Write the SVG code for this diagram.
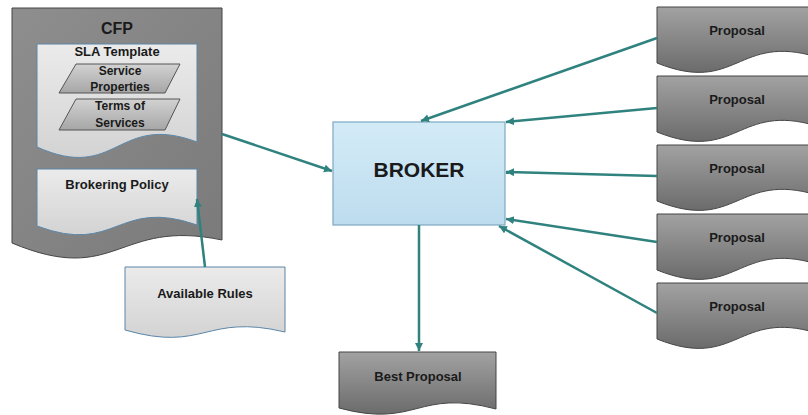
<svg xmlns="http://www.w3.org/2000/svg" width="808" height="415" viewBox="0 0 808 415">
  <defs>
    <linearGradient id="darkFill" x1="0" y1="0" x2="0" y2="1">
      <stop offset="0" stop-color="#a2a2a2"/>
      <stop offset="1" stop-color="#6b6b6b"/>
    </linearGradient>
    <linearGradient id="cfpFill" x1="0" y1="0" x2="1" y2="1">
      <stop offset="0" stop-color="#8e8e8e"/>
      <stop offset="1" stop-color="#7a7a7a"/>
    </linearGradient>
    <linearGradient id="lightFill" x1="0" y1="0" x2="0" y2="1">
      <stop offset="0" stop-color="#ebebeb"/>
      <stop offset="1" stop-color="#d3d3d3"/>
    </linearGradient>
    <linearGradient id="paraFill" x1="0" y1="0" x2="0" y2="1">
      <stop offset="0" stop-color="#d2d2d2"/>
      <stop offset="1" stop-color="#a6a6a6"/>
    </linearGradient>
    <linearGradient id="brokerFill" x1="0" y1="0" x2="0" y2="1">
      <stop offset="0" stop-color="#d3ebf7"/>
      <stop offset="1" stop-color="#bddcee"/>
    </linearGradient>
    <marker id="arrow" markerUnits="userSpaceOnUse" markerWidth="10" markerHeight="10" refX="8" refY="4" orient="auto">
      <path d="M0,0 L8,4 L0,8 Z" fill="#2f827e"/>
    </marker>
    <!-- document outline used by every proposal -->
    <path id="proposalShape" d="M0,0 H160 V50 C80,26 80,88 0,56 Z"/>
  </defs>
  <style>
    .label { font-family: "Liberation Sans", Arial, sans-serif; font-weight: bold; fill: #1a1a1a; text-anchor: middle; dominant-baseline: central; }
    .dark { fill: url(#darkFill); stroke: #454545; stroke-width: 1; }
    .light { fill: url(#lightFill); stroke: #5b86a8; stroke-width: 1; }
    .para { fill: url(#paraFill); stroke: #555555; stroke-width: 1; }
    .edge { fill: none; stroke: #2f827e; stroke-width: 2.5; marker-end: url(#arrow); }
  </style>

  <!-- CFP document with its nested parts -->
  <g id="cfp">
    <path d="M12,8 H222 V240 C117,218 117,287 12,243 Z" fill="url(#cfpFill)" stroke="#454545" stroke-width="1"/>
    <text class="label" x="117" y="28" font-size="16">CFP</text>
  </g>
  <g id="sla-template">
    <path class="light" d="M37,44 H197 V142 C117,112 117,183 37,147 Z"/>
    <text class="label" x="117" y="51" font-size="13">SLA Template</text>
  </g>
  <g id="service-properties">
    <path class="para" d="M76,64 H180 L165,93 H59 Z"/>
    <text class="label" x="120" y="71" font-size="12">Service</text>
    <text class="label" x="120" y="87" font-size="12">Properties</text>
  </g>
  <g id="terms-of-services">
    <path class="para" d="M76,99 H180 L165,130 H59 Z"/>
    <text class="label" x="120" y="106" font-size="12">Terms of</text>
    <text class="label" x="120" y="123" font-size="12">Services</text>
  </g>
  <g id="brokering-policy">
    <path class="light" d="M37,169 H197 V225 C117,197 117,256 37,226 Z"/>
    <text class="label" x="117" y="184" font-size="13">Brokering Policy</text>
  </g>

  <g id="available-rules">
    <path class="light" d="M125,267 H285 V332 C205,313 205,353 125,330 Z"/>
    <text class="label" x="205" y="293" font-size="13">Available Rules</text>
  </g>

  <g id="broker">
    <rect x="333" y="122" width="172" height="103" fill="url(#brokerFill)" stroke="#7ea8c4" stroke-width="1.2"/>
    <text class="label" x="419" y="169" font-size="21">BROKER</text>
  </g>

  <g id="best-proposal">
    <path class="dark" d="M339,352 H496 V409 C417,388 417,429 339,408 Z"/>
    <text class="label" x="418" y="376" font-size="13">Best Proposal</text>
  </g>

  <g id="proposal-1" transform="translate(657,7)">
    <use href="#proposalShape" class="dark"/>
    <text class="label" x="80" y="23" font-size="13">Proposal</text>
  </g>
  <g id="proposal-2" transform="translate(657,76)">
    <use href="#proposalShape" class="dark"/>
    <text class="label" x="80" y="23" font-size="13">Proposal</text>
  </g>
  <g id="proposal-3" transform="translate(657,145)">
    <use href="#proposalShape" class="dark"/>
    <text class="label" x="80" y="23" font-size="13">Proposal</text>
  </g>
  <g id="proposal-4" transform="translate(657,214)">
    <use href="#proposalShape" class="dark"/>
    <text class="label" x="80" y="23" font-size="13">Proposal</text>
  </g>
  <g id="proposal-5" transform="translate(657,283)">
    <use href="#proposalShape" class="dark"/>
    <text class="label" x="80" y="23" font-size="13">Proposal</text>
  </g>

  <g id="connectors">
    <line class="edge" x1="222" y1="134" x2="332" y2="171"/>
    <line class="edge" x1="205" y1="267" x2="197" y2="199"/>
    <line class="edge" x1="419" y1="225" x2="419" y2="351"/>
    <line class="edge" x1="657" y1="38" x2="421" y2="121"/>
    <line class="edge" x1="657" y1="108" x2="506" y2="122"/>
    <line class="edge" x1="657" y1="176" x2="506" y2="172"/>
    <line class="edge" x1="657" y1="242" x2="506" y2="219"/>
    <line class="edge" x1="657" y1="313" x2="499" y2="226"/>
  </g>
</svg>
